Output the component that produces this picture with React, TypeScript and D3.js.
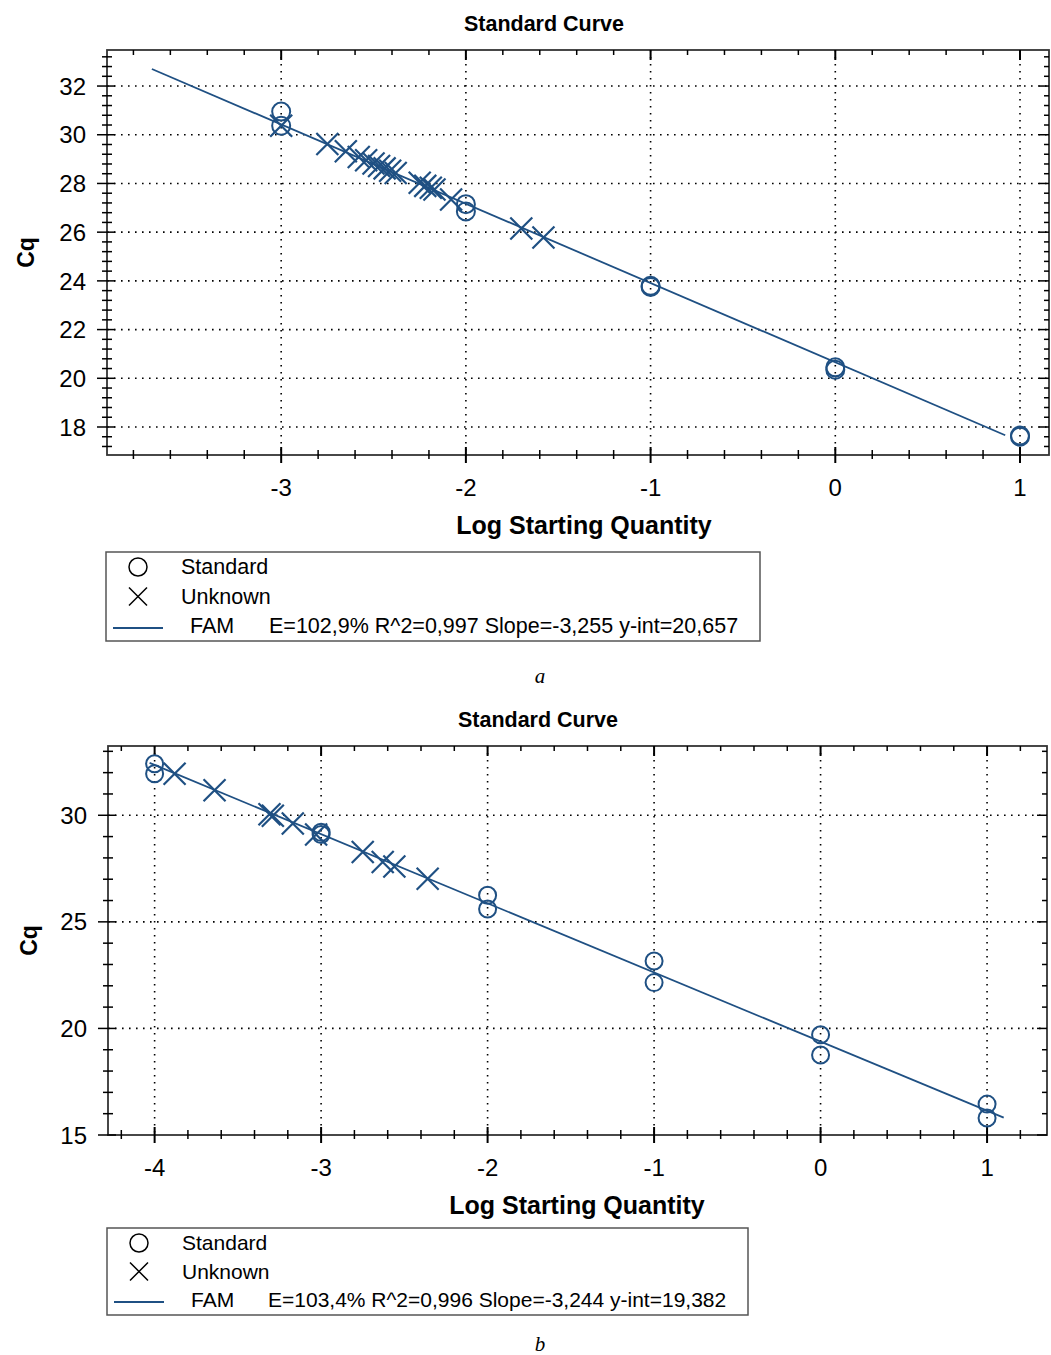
import React from "react";
import * as d3 from "d3";

// chart a
const aStdX = [-3, -3, -2, -2, -1, -1, 0, 0, 1, 1];
const aStdCq = [30.95, 30.37, 27.15, 26.85, 23.8, 23.75, 20.45, 20.35, 17.65, 17.6];
const aUnkX = [-3.0, -2.75, -2.65, -2.58, -2.54, -2.5, -2.47, -2.44, -2.41, -2.38, -2.25, -2.22, -2.19, -2.17, -2.08, -1.7, -1.58];
const aUnkCq = [30.37, 29.62, 29.32, 29.09, 28.95, 28.82, 28.72, 28.62, 28.52, 28.43, 28.03, 27.9, 27.82, 27.75, 27.34, 26.15, 25.78];
const aFit = { slope: -3.255, yint: 20.657, from: -3.7, to: 0.92 };
const aXTicks = [-3, -2, -1, 0, 1];
const aYTicks = [18, 20, 22, 24, 26, 28, 30, 32];
const aLegend = "E=102,9% R^2=0,997 Slope=-3,255 y-int=20,657";

// chart b
const bStdX = [-4, -4, -3, -3, -2, -2, -1, -1, 0, 0, 1, 1];
const bStdCq = [32.42, 31.95, 29.2, 29.1, 26.25, 25.6, 23.16, 22.15, 19.7, 18.75, 16.45, 15.8];
const bUnkX = [-3.88, -3.64, -3.31, -3.29, -3.17, -3.03, -2.75, -2.63, -2.56, -2.36];
const bUnkCq = [31.95, 31.17, 30.05, 29.98, 29.61, 29.1, 28.28, 27.81, 27.6, 27.02];
const bFit = { slope: -3.244, yint: 19.382, from: -4.03, to: 1.1 };
const bXTicks = [-4, -3, -2, -1, 0, 1];
const bYTicks = [15, 20, 25, 30];
const bLegend = "E=103,4% R^2=0,996 Slope=-3,244 y-int=19,382";

const BLUE = "#1f5083";
const FONT = "'Liberation Sans', Arial, sans-serif";

const Curve = (props: any) => {
  const p = props;
  const x = d3.scaleLinear().domain(p.xDomain).range([p.left, p.right]);
  const y = d3.scaleLinear().domain(p.yDomain).range([p.bottom, p.top]);
  const minorX = d3.range(Math.ceil(p.xDomain[0] / p.xMinor) * p.xMinor, p.xDomain[1], p.xMinor);
  const minorY = d3.range(Math.ceil(p.yDomain[0] / p.yMinor) * p.yMinor, p.yDomain[1], p.yMinor);
  const isMajor = (v: number, arr: number[]) => arr.some((t) => Math.abs(t - v) < 1e-6);
  const std = p.stdX.map((v: number, i: number) => [v, p.stdCq[i]]);
  const unk = p.unkX.map((v: number, i: number) => [v, p.unkCq[i]]);
  const fitLine = d3.line<number>().x((d) => x(d)).y((d) => y(p.fit.slope * d + p.fit.yint));
  const lg = p.legend;
  const k = p.cross;

  return (
    <g fontFamily={FONT}>
      <text x={p.titleX} y={p.top - 19} textAnchor="middle" fontWeight="bold" fontSize={21.5}>Standard Curve</text>

      {/* grid */}
      {p.xTicks.map((t: number) => (
        <line key={"gx" + t} x1={x(t)} x2={x(t)} y1={p.top} y2={p.bottom} stroke="#000" strokeWidth={1.6} strokeDasharray="1.6 5.4" />
      ))}
      {p.yTicks.filter((t: number) => y(t) < p.bottom - 2).map((t: number) => (
        <line key={"gy" + t} x1={p.left} x2={p.right} y1={y(t)} y2={y(t)} stroke="#000" strokeWidth={1.6} strokeDasharray="1.6 5.4" />
      ))}

      {/* frame */}
      <rect x={p.left} y={p.top} width={p.right - p.left} height={p.bottom - p.top} fill="none" stroke="#333" strokeWidth={1.8} />

      {/* ticks */}
      {minorX.map((t: number) => {
        const m = isMajor(t, p.xTicks);
        return (
          <g key={"tx" + t} stroke="#000" strokeWidth={m ? 2 : 1.5}>
            <line x1={x(t)} x2={x(t)} y1={p.bottom - (m ? 8 : 5)} y2={p.bottom + (m ? 8 : 4)} />
            <line x1={x(t)} x2={x(t)} y1={p.top} y2={p.top + (m ? 10 : 5)} />
          </g>
        );
      })}
      {minorY.map((t: number) => {
        const m = isMajor(t, p.yTicks);
        return (
          <g key={"ty" + t} stroke="#000" strokeWidth={1.5}>
            <line x1={p.left - (m ? 10 : 5)} x2={p.left + (m ? 8 : 5)} y1={y(t)} y2={y(t)} />
            <line x1={p.right - (m ? 10 : 5)} x2={p.right} y1={y(t)} y2={y(t)} />
          </g>
        );
      })}

      {/* tick labels */}
      {p.xTicks.map((t: number) => (
        <text key={"lx" + t} x={x(t)} y={p.bottom + 41} textAnchor="middle" fontSize={24}>{t}</text>
      ))}
      {p.yTicks.map((t: number) => (
        <text key={"ly" + t} x={p.left - 21} y={y(t)} dy="0.36em" textAnchor="end" fontSize={24}>{t}</text>
      ))}

      <text x={p.xLabelX} y={p.bottom + 79} textAnchor="middle" fontWeight="bold" fontSize={25}>Log Starting Quantity</text>
      <text transform={`translate(${p.yLabelX},${(p.top + p.bottom) / 2}) rotate(-90)`} textAnchor="middle" fontWeight="bold" fontSize={23}>Cq</text>

      {/* fit */}
      <path d={fitLine([p.fit.from, p.fit.to]) || ""} fill="none" stroke={BLUE} strokeWidth={1.8} />

      {/* standards */}
      {std.map((d: number[], i: number) => (
        <circle key={"s" + i} cx={x(d[0])} cy={y(d[1])} r={p.radius} fill="none" stroke={BLUE} strokeWidth={2} />
      ))}
      {/* unknowns */}
      {unk.map((d: number[], i: number) => (
        <path key={"u" + i} d={`M${x(d[0]) - k},${y(d[1]) - k}L${x(d[0]) + k},${y(d[1]) + k}M${x(d[0]) - k},${y(d[1]) + k}L${x(d[0]) + k},${y(d[1]) - k}`} stroke={BLUE} strokeWidth={2.2} fill="none" />
      ))}

      {/* legend */}
      <rect x={lg.x} y={lg.y} width={lg.w} height={lg.h} fill="none" stroke="#555" strokeWidth={1.5} />
      <circle cx={lg.x + 32} cy={lg.y + 15} r={9} fill="none" stroke="#000" strokeWidth={1.5} />
      <path d={`M${lg.x + 23},${lg.y + lg.step + 6}L${lg.x + 41},${lg.y + lg.step + 24}M${lg.x + 23},${lg.y + lg.step + 24}L${lg.x + 41},${lg.y + lg.step + 6}`} stroke="#000" strokeWidth={1.5} />
      <line x1={lg.x + 7} x2={lg.x + 57} y1={lg.y + 2 * lg.step + 17} y2={lg.y + 2 * lg.step + 17} stroke={BLUE} strokeWidth={1.8} />
      <text x={lg.x + 75} y={lg.y + 22} fontSize={lg.fs}>Standard</text>
      <text x={lg.x + 75} y={lg.y + 22 + lg.step} fontSize={lg.fs}>Unknown</text>
      <text x={lg.x + 84} y={lg.y + 22 + 2 * lg.step} fontSize={lg.fs}>FAM</text>
      <text x={lg.x + lg.textX} y={lg.y + 22 + 2 * lg.step} fontSize={lg.fs}>{p.legendText}</text>

      <text x={540} y={p.captionY} textAnchor="middle" fontFamily="'Liberation Serif', serif" fontStyle="italic" fontSize={21}>{p.caption}</text>
    </g>
  );
};

export default function App() {
  return (
    <svg width={1051} height={1355} style={{ position: "absolute", left: 0, top: 0, background: "#fff" }}>
      <Curve
        left={107} right={1049} top={50} bottom={455}
        xDomain={[-3.943, 1.157]} yDomain={[16.85, 33.48]}
        xTicks={aXTicks} yTicks={aYTicks} xMinor={0.2} yMinor={0.4}
        stdX={aStdX} stdCq={aStdCq} unkX={aUnkX} unkCq={aUnkCq} fit={aFit}
        radius={9} cross={11}
        titleX={544} xLabelX={584} yLabelX={34}
        legend={{ x: 106, y: 552, w: 654, h: 89, step: 29.5, fs: 21.5, textX: 163 }}
        legendText={aLegend} caption="a" captionY={683}
      />
      <Curve
        left={108} right={1047} top={746} bottom={1135}
        xDomain={[-4.28, 1.36]} yDomain={[15, 33.25]}
        xTicks={bXTicks} yTicks={bYTicks} xMinor={0.2} yMinor={1}
        stdX={bStdX} stdCq={bStdCq} unkX={bUnkX} unkCq={bUnkCq} fit={bFit}
        radius={8.5} cross={11}
        titleX={538} xLabelX={577} yLabelX={37}
        legend={{ x: 107, y: 1228, w: 641, h: 87, step: 28.5, fs: 21, textX: 161 }}
        legendText={bLegend} caption="b" captionY={1351}
      />
    </svg>
  );
}
